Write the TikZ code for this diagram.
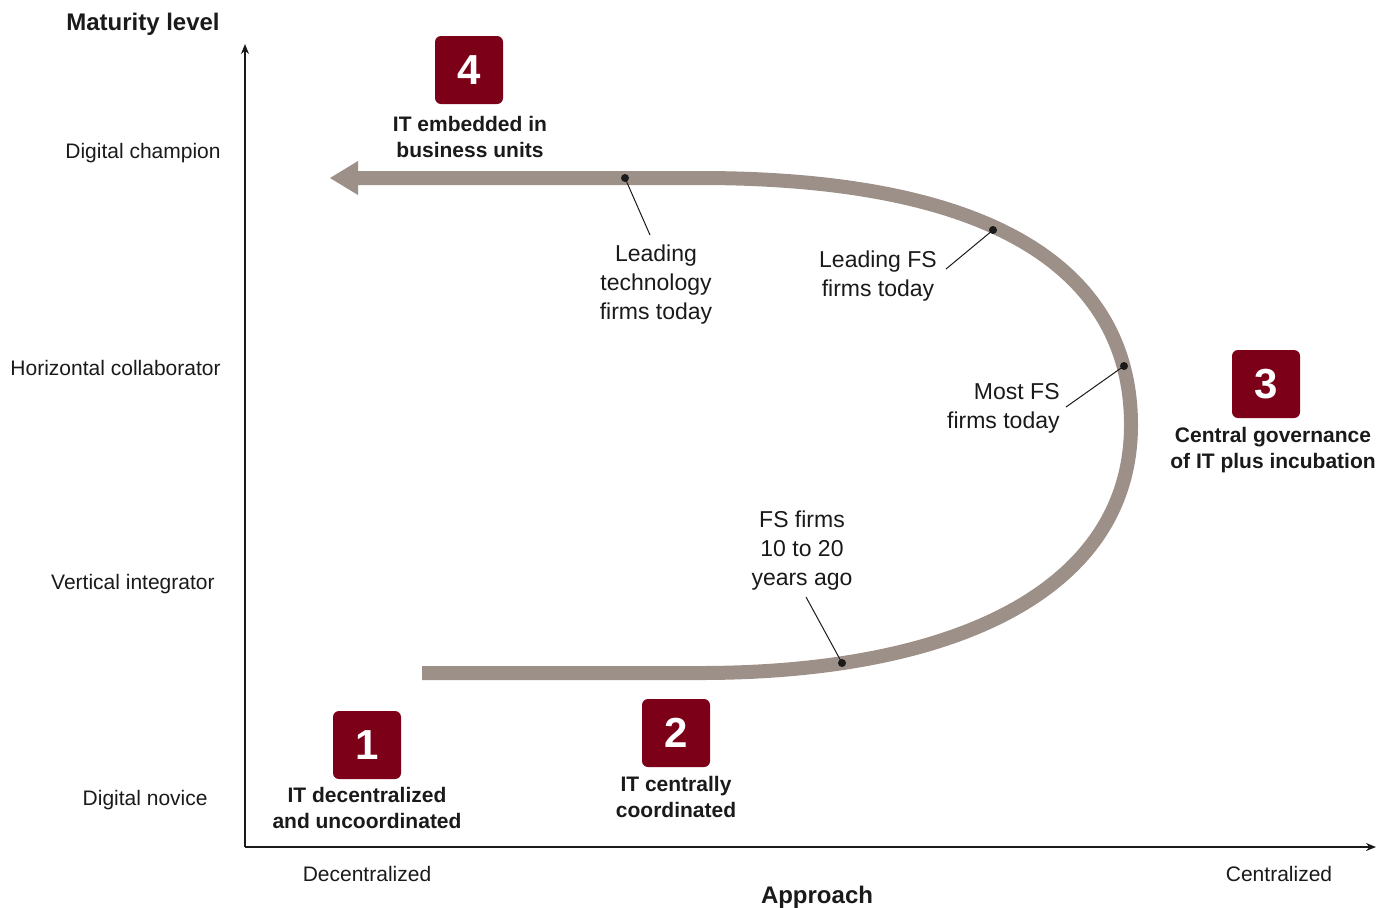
\documentclass[tikz,border=0pt]{standalone}
\usepackage{fontspec}
\setmainfont{Liberation Sans}
\usetikzlibrary{arrows.meta}
\definecolor{band}{HTML}{9D9088}
\definecolor{boxred}{HTML}{7D0019}
\definecolor{ink}{HTML}{1A1A1A}
\begin{document}
\begin{tikzpicture}[x=0.5pt,y=-0.5pt,
  every node/.style={inner sep=0pt, text=ink},
  axislabel/.style={font=\fontsize{10.5}{13}\selectfont},
  axistitle/.style={font=\bfseries\fontsize{12}{14}\selectfont},
  stagebox/.style={fill=boxred, rounded corners=3pt, minimum size=34pt,
    text=white, font=\bfseries\fontsize{21}{24}\selectfont},
  stagetext/.style={align=center, font=\bfseries\fontsize{10.5}{13}\selectfont},
  note/.style={align=center, font=\fontsize{11.5}{14.5}\selectfont},
  leader/.style={draw=ink, line width=0.5pt},
  pin/.style={fill=ink, draw=none},
  axis/.style={draw=ink, line width=0.7pt, -{Stealth[length=5pt, width=4pt]}}
]
\useasboundingbox (0,0) rectangle (1386,907);

% axes
\coordinate (origin) at (245,847);
\coordinate (ytip) at (245,44);
\coordinate (xtip) at (1376,847);
\draw[axis] (origin) -- (ytip);
\draw[axis] (origin) -- (xtip);

\node[axistitle] (ytitle) at (143,24) {Maturity level};
\node[axistitle] (xtitle) at (817,897) {Approach};

\node[axislabel, anchor=east] (champ) at (221,153) {Digital champion};
\node[axislabel, anchor=east] (horiz) at (221,368) {Horizontal collaborator};
\node[axislabel, anchor=east] (vert) at (215,584) {Vertical integrator};
\node[axislabel, anchor=east] (novice) at (208,800) {Digital novice};

\node[axislabel] (decen) at (367,874) {Decentralized};
\node[axislabel] (cen) at (1279,874) {Centralized};

% the U-shaped journey band
\draw[band, line width=7pt]
  (422,673) -- (700,673)
  .. controls (955,673) and (1131,590) .. (1131,425)
  .. controls (1131,280) and (1010,178) .. (700,178)
  -- (356,178);
\fill[band] (330,178) -- (358,161) -- (358,195) -- cycle;

% points on the band
\coordinate (p1) at (842,663);
\coordinate (p2) at (1124,366);
\coordinate (p3) at (993,230);
\coordinate (p4) at (625,178);
\foreach \p in {p1,p2,p3,p4} \fill[pin] (\p) circle (4);

% stage boxes
\node[stagebox] (s1) at (367,745) {1};
\node[stagebox] (s2) at (676,733) {2};
\node[stagebox] (s3) at (1266,384) {3};
\node[stagebox] (s4) at (469,70) {4};

\node[stagetext] (t1) at (367,808) {IT decentralized\\and uncoordinated};
\node[stagetext] (t2) at (676,797) {IT centrally\\coordinated};
\node[stagetext] (t3) at (1273,450) {Central governance\\of IT plus incubation};
\node[stagetext] (t4) at (470,137) {IT embedded in\\business units};

% annotations
\node[note] (n1) at (802,551) {FS firms\\10 to 20\\years ago};
\node[note, align=right, anchor=east] (n2) at (1060,408) {Most FS\\firms today};
\node[note] (n3) at (878,276) {Leading FS\\firms today};
\node[note] (n4) at (656,285) {Leading\\technology\\firms today};

\coordinate (e1) at (806,597);
\coordinate (e2) at (1066,407);
\coordinate (e3) at (946,269);
\coordinate (e4) at (650,235);
\draw[leader] (p1) -- (e1);
\draw[leader] (p2) -- (e2);
\draw[leader] (p3) -- (e3);
\draw[leader] (p4) -- (e4);
\end{tikzpicture}
\end{document}
